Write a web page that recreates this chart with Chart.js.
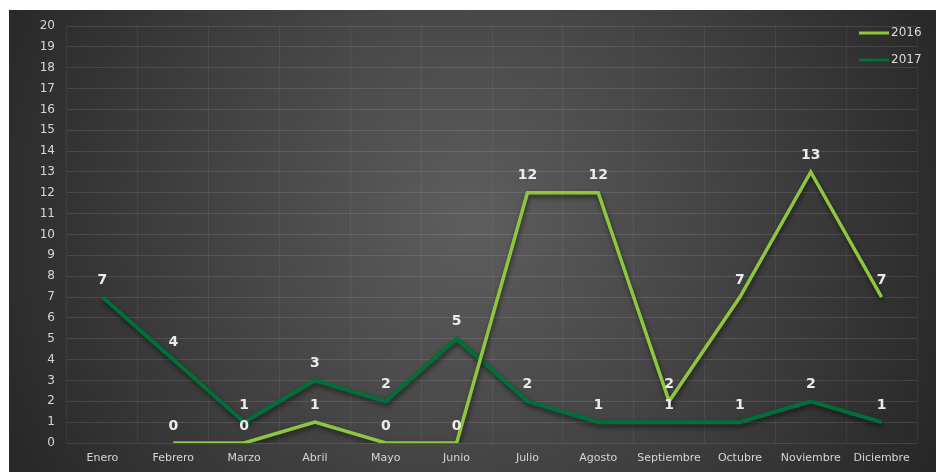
<!DOCTYPE html>
<html>
<head>
<meta charset="utf-8">
<script src="https://cdn.jsdelivr.net/npm/chart.js@4/dist/chart.umd.min.js"></script>
<style>
  html, body { margin: 0; padding: 0; background: #fff; }
  #wrap { width: 937px; height: 473px; position: relative; }
  canvas { display: block; }
</style>
</head>
<body>
<div id="wrap"><canvas id="salesChart" width="937" height="473"></canvas></div>
<script>
var meses = ["Enero", "Febrero", "Marzo", "Abril", "Mayo", "Junio", "Julio", "Agosto", "Septiembre", "Octubre", "Noviembre", "Diciembre"];
var valores2016 = [null, 0, 0, 1, 0, 0, 12, 12, 2, 7, 13, 7];
var valores2017 = [7, 4, 1, 3, 2, 5, 2, 1, 1, 1, 2, 1];
var yMin = 0, yMax = 20, yStep = 1;

document.addEventListener("DOMContentLoaded", function() {
    var fondo = {
        id: "fondo",
        beforeDraw: function(chart) {
            var c = chart.ctx;
            var g = c.createRadialGradient(470, 220, 10, 470, 220, 560);
            g.addColorStop(0, "#5d5d5d");
            g.addColorStop(0.55, "#3d3d3d");
            g.addColorStop(1, "#232323");
            c.save();
            c.fillStyle = g;
            c.fillRect(9, 10, 927, 462);
            c.restore();
        }
    };

    // sombra bajo las lineas
    var sombra = {
        id: "sombra",
        beforeDatasetDraw: function(chart) {
            var c = chart.ctx;
            c.save();
            c.shadowColor = "rgba(0,0,0,0.55)";
            c.shadowBlur = 5;
            c.shadowOffsetX = 1;
            c.shadowOffsetY = 3;
        },
        afterDatasetDraw: function(chart) {
            chart.ctx.restore();
        }
    };

    var etiquetas = {
        id: "etiquetas",
        afterDatasetsDraw: function(chart) {
            var c = chart.ctx;
            c.save();
            c.font = "bold 14px 'DejaVu Sans'";
            c.fillStyle = "#ececec";
            c.textAlign = "center";
            c.textBaseline = "middle";
            chart.data.datasets.forEach(function(ds, i) {
                var meta = chart.getDatasetMeta(i);
                meta.data.forEach(function(pt, j) {
                    var v = ds.data[j];
                    if (v === null || v === undefined) return;
                    c.fillText(String(v), pt.x, pt.y - 17);
                });
            });
            c.restore();
        }
    };

    var leyenda = {
        id: "leyenda",
        afterDraw: function(chart) {
            var c = chart.ctx;
            c.save();
            c.font = "12px 'DejaVu Sans'";
            c.textBaseline = "middle";
            chart.data.datasets.forEach(function(ds, i) {
                var y = 33 + i * 27;
                c.strokeStyle = ds.borderColor;
                c.lineWidth = 3;
                c.beginPath();
                c.moveTo(859, y);
                c.lineTo(889, y);
                c.stroke();
                c.fillStyle = "#dcdcdc";
                c.fillText(ds.label, 891, y);
            });
            c.restore();
        }
    };

    var ctx = document.getElementById("salesChart").getContext("2d");
    var salesChart = new Chart(ctx, {
        type: "line",
        data: {
            labels: meses,
            datasets: [{
                label: "2016",
                data: valores2016,
                borderColor: "#8dc63f",
                borderWidth: 3.5,
                pointRadius: 0,
                tension: 0,
                fill: false
            }, {
                label: "2017",
                data: valores2017,
                borderColor: "#00703a",
                borderWidth: 4,
                pointRadius: 0,
                tension: 0,
                fill: false
            }]
        },
        options: {
            responsive: false,
            animation: false,
            devicePixelRatio: 1,
            layout: { padding: { left: 9, top: 26, right: 20, bottom: 0 } },
            plugins: {
                legend: { display: false },
                tooltip: { enabled: false }
            },
            scales: {
                x: {
                    offset: true,
                    grid: { offset: true, color: "rgba(255,255,255,0.06)", drawTicks: false },
                    border: { display: false },
                    ticks: { color: "#d6d6d6", font: { family: "DejaVu Sans", size: 11 }, padding: 9, maxRotation: 0, autoSkip: false },
                    afterFit: function(scale) { scale.height = 30; }
                },
                y: {
                    min: yMin,
                    max: yMax,
                    grid: { color: "rgba(255,255,255,0.11)", drawTicks: false },
                    border: { display: false },
                    ticks: { stepSize: yStep, autoSkip: false, color: "#d6d6d6", font: { family: "DejaVu Sans", size: 12 }, padding: 12 },
                    afterFit: function(scale) { scale.width = 58; }
                }
            }
        },
        plugins: [fondo, sombra, etiquetas, leyenda]
    });
});
</script>
</body>
</html>
